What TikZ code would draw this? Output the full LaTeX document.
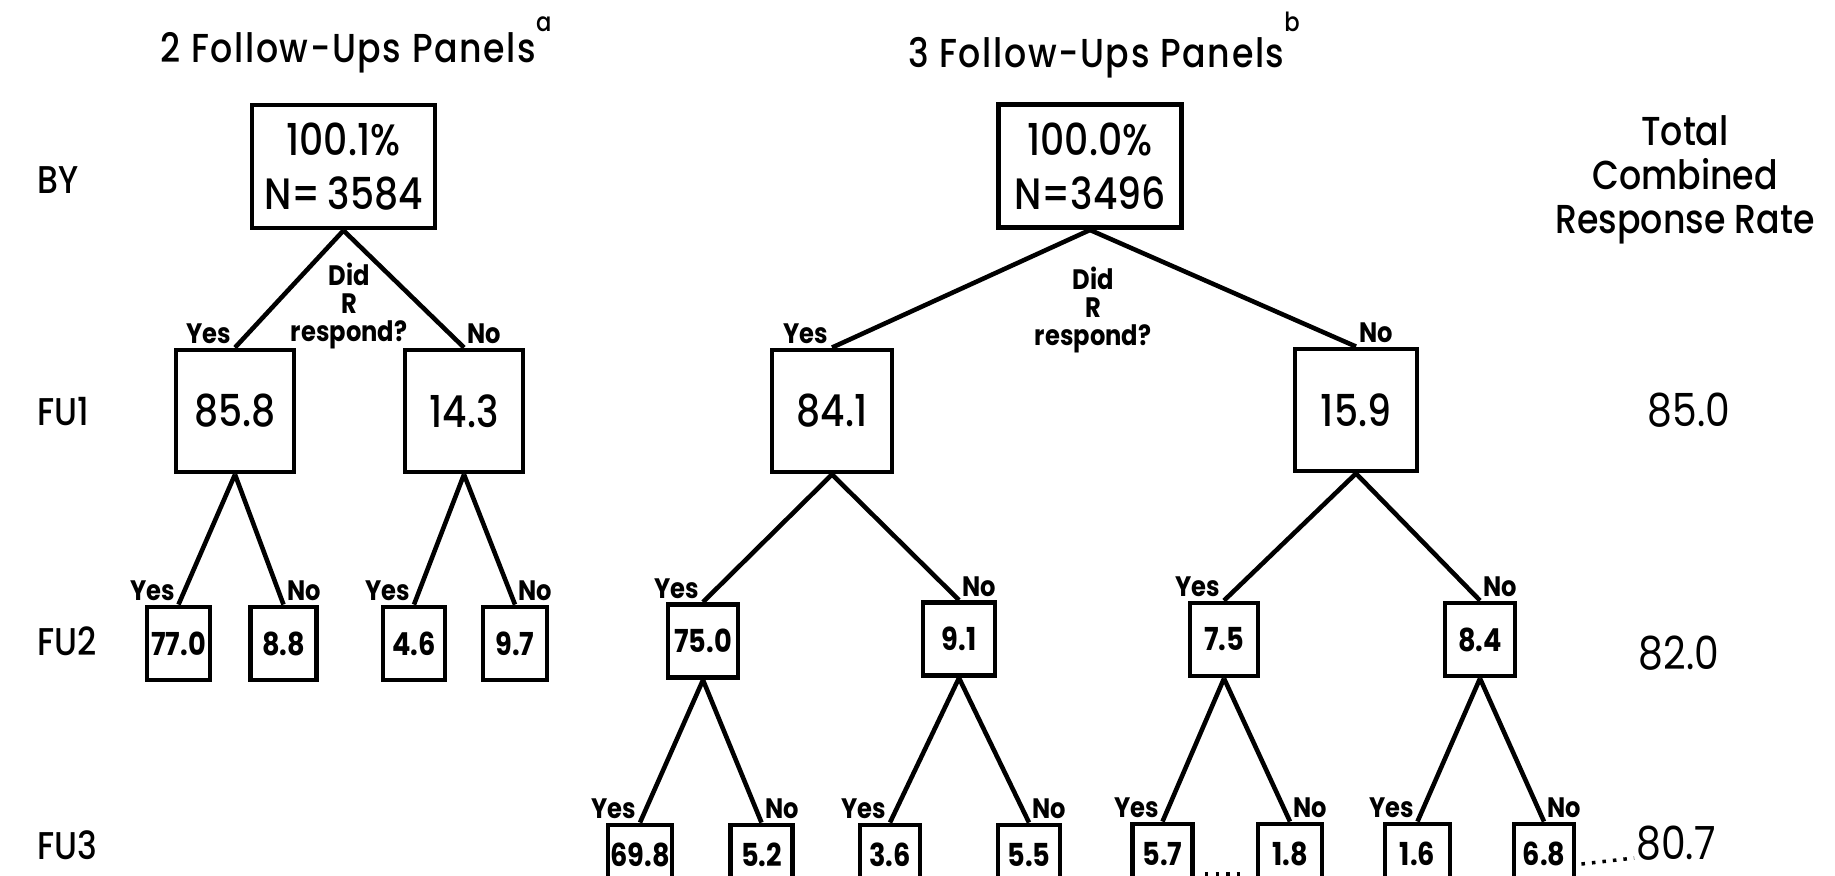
\documentclass[tikz,border=0pt]{standalone}
\usepackage{fontspec}
\setmainfont{Poppins}[FakeStretch=0.86]
\newfontfamily\medfont{Poppins Medium}[FakeStretch=0.86]
\usepackage{tikz}

\begin{document}
\begin{tikzpicture}[x=0.1cm, y=-0.1cm, line width=1.3pt,
        box/.style={draw, line width=1.4pt, inner sep=0pt, align=center},
        rootbox/.style={box, minimum width=1.83cm, minimum height=1.23cm,
            font=\medfont\fontsize{12.5}{15.4}\selectfont},
        fubox/.style={box, minimum width=1.18cm, minimum height=1.22cm,
            font=\medfont\fontsize{12.5}{14}\selectfont},
        smallbox/.style={box, minimum width=0.66cm, minimum height=0.73cm,
            font=\bfseries\fontsize{9}{11}\selectfont},
        tinybox/.style={box, minimum width=0.62cm, minimum height=0.6cm,
            font=\bfseries\fontsize{9}{11}\selectfont},
        yn/.style={font=\bfseries\fontsize{8}{8}\selectfont, inner sep=0.4pt},
        quest/.style={font=\bfseries\fontsize{8}{8}\selectfont, align=center, inner sep=0pt},
        rowlab/.style={font=\medfont\fontsize{11}{12}\selectfont, anchor=west, inner sep=0pt},
        paneltitle/.style={font=\medfont\fontsize{11.5}{12}\selectfont\addfontfeature{LetterSpace=4}, inner sep=0pt},
        rate/.style={font=\fontsize{13}{14}\selectfont, inner sep=0pt},
        leader/.style={dotted, line width=1pt}]
    \useasboundingbox (0,0) rectangle (183.5,87.5);

    % titles and row names
    \node[paneltitle] (titleL) at (35.6,4.5) {2 Follow-Ups Panels\raisebox{1.4ex}{\fontsize{7.5}{7}\selectfont a}};
    \node[paneltitle] (titleM) at (110.4,4.5) {3 Follow-Ups Panels\raisebox{1.6ex}{\fontsize{7.5}{7}\selectfont b}};
    \node[rowlab] (rowBY) at (3.5,18.0) {BY};
    \node[rowlab] (rowFUa) at (3.5,41.2) {FU1};
    \node[rowlab] (rowFUb) at (3.5,64.1) {FU2};
    \node[rowlab] (rowFUc) at (3.5,84.5) {FU3};

    % 2 follow-ups panel
    \node[rootbox] (rootL) at (34.35,16.65) {100.1\%\\N=\,3584};
    \node[fubox] (L1y) at (23.5,41.1) {85.8};
    \node[fubox] (L1n) at (46.4,41.1) {14.3};
    \node[smallbox, minimum width=0.63cm] (L2yy) at (17.85,64.35) {77.0};
    \node[smallbox] (L2yn) at (28.35,64.35) {8.8};
    \node[smallbox, minimum width=0.62cm] (L2ny) at (41.4,64.35) {4.6};
    \node[smallbox, minimum width=0.64cm] (L2nn) at (51.5,64.35) {9.7};

    \draw (rootL.south) -- (L1y.north) node[yn, anchor=south east] (yL1) {Yes};
    \draw (rootL.south) -- (L1n.north) node[yn, anchor=south west] (nL1) {No};
    \node[quest] (askL) at (34.9,30.6) {Did\\R\\respond?};
    \draw (L1y.south) -- (L2yy.north) node[yn, anchor=south east] (yL2a) {Yes};
    \draw (L1y.south) -- (L2yn.north) node[yn, anchor=south west] (nL2a) {No};
    \draw (L1n.south) -- (L2ny.north) node[yn, anchor=south east] (yL2b) {Yes};
    \draw (L1n.south) -- (L2nn.north) node[yn, anchor=south west] (nL2b) {No};

    % 3 follow-ups panel
    \node[rootbox] (rootM) at (109.0,16.6) {100.0\%\\N=3496};
    \node[fubox, minimum width=1.2cm] (M1y) at (83.2,41.1) {84.1};
    \node[fubox, minimum width=1.22cm] (M1n) at (135.6,41.0) {15.9};
    \node[smallbox, minimum width=0.7cm] (M2yy) at (70.3,64.1) {75.0};
    \node[smallbox, minimum width=0.72cm] (M2yn) at (95.9,63.9) {9.1};
    \node[smallbox, minimum width=0.68cm] (M2ny) at (122.4,63.95) {7.5};
    \node[smallbox, minimum width=0.7cm] (M2nn) at (148.0,63.95) {8.4};

    \draw (rootM.south) -- (M1y.north) node[yn, anchor=south east] (yM1) {Yes};
    \draw (rootM.south) -- (M1n.north) node[yn, anchor=south west] (nM1) {No};
    \node[quest] (askM) at (109.3,31.0) {Did\\R\\respond?};
    \draw (M1y.south) -- (M2yy.north) node[yn, anchor=south east] (yM2a) {Yes};
    \draw (M1y.south) -- (M2yn.north) node[yn, anchor=south west] (nM2a) {No};
    \draw (M1n.south) -- (M2ny.north) node[yn, anchor=south east] (yM2b) {Yes};
    \draw (M1n.south) -- (M2nn.north) node[yn, anchor=south west] (nM2b) {No};

    \node[tinybox, minimum width=0.64cm] (M3a) at (64.0,85.5) {69.8};
    \node[tinybox] (M3b) at (76.15,85.5) {5.2};
    \node[tinybox, minimum width=0.6cm] (M3c) at (89.0,85.5) {3.6};
    \node[tinybox] (M3d) at (102.9,85.5) {5.5};
    \node[tinybox, minimum width=0.6cm] (M3e) at (116.25,85.4) {5.7};
    \node[tinybox, minimum width=0.64cm] (M3f) at (129.0,85.4) {1.8};
    \node[tinybox, minimum width=0.65cm] (M3g) at (141.75,85.4) {1.6};
    \node[tinybox, minimum width=0.6cm] (M3h) at (154.4,85.4) {6.8};

    \draw (M2yy.south) -- (M3a.north) node[yn, anchor=south east] (yM3a) {Yes};
    \draw (M2yy.south) -- (M3b.north) node[yn, anchor=south west] (nM3a) {No};
    \draw (M2yn.south) -- (M3c.north) node[yn, anchor=south east] (yM3b) {Yes};
    \draw (M2yn.south) -- (M3d.north) node[yn, anchor=south west] (nM3b) {No};
    \draw (M2ny.south) -- (M3e.north) node[yn, anchor=south east] (yM3c) {Yes};
    \draw (M2ny.south) -- (M3f.north) node[yn, anchor=south west] (nM3c) {No};
    \draw (M2nn.south) -- (M3g.north) node[yn, anchor=south east] (yM3d) {Yes};
    \draw (M2nn.south) -- (M3h.north) node[yn, anchor=south west] (nM3d) {No};

    % total combined rates
    \node[rate, align=center, font=\medfont\fontsize{11.5}{12.5}\selectfont] (rateHead) at (168.5,18.0) {Total\\Combined\\Response Rate};
    \node[rate] (rateA) at (168.9,41.0) {85.0};
    \node[rate] (rateB) at (167.9,65.3) {82.0};
    \node[rate] (rateC) at (167.6,84.3) {80.7};

    \draw[leader] ([xshift=1mm, yshift=-2mm]M3e.east) -- ([xshift=-1.3mm, yshift=-2mm]M3f.west);
    \draw[leader] ([xshift=0.5mm, yshift=-1mm]M3h.east) -- ([yshift=-1.5mm]rateC.west);
\end{tikzpicture}
\end{document}
